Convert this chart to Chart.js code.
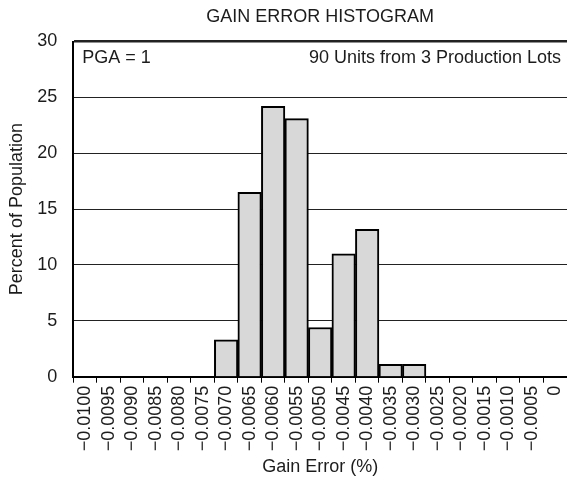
<!DOCTYPE html>
<html lang="en">
<head>
  <meta charset="UTF-8">
  <title>Gain Error Histogram</title>
  <script src="https://cdn.jsdelivr.net/npm/chart.js"></script>
  <style>
    body { margin: 0; background: #fff; }
    #wrap { width: 567px; height: 482px; position: relative; }
  </style>
</head>
<body>
  <div id="wrap"><canvas id="histChart"></canvas></div>

  <script>
    // bins of gain error (%), one bar per bin
    const binLabels = ['\u22120.0100', '\u22120.0095', '\u22120.0090', '\u22120.0085', '\u22120.0080',
      '\u22120.0075', '\u22120.0070', '\u22120.0065', '\u22120.0060', '\u22120.0055', '\u22120.0050',
      '\u22120.0045', '\u22120.0040', '\u22120.0035', '\u22120.0030', '\u22120.0025', '\u22120.0020',
      '\u22120.0015', '\u22120.0010', '\u22120.0005', '0'];
    const percentValues = [0, 0, 0, 0, 0, 0, 3.3, 16.5, 24.2, 23.1, 4.4, 11.0, 13.2, 1.1, 1.1, 0, 0, 0, 0, 0, 0];
    const yTicks = [0, 5, 10, 15, 20, 25, 30];

    const FONT = 'Liberation Sans, Arial, sans-serif';
    const INK = '#1c1c1c';

    // title and the two notes inside the plot
    const textPlugin = {
      id: 'notes',
      afterDraw(chart) {
        const { ctx, chartArea } = chart;
        ctx.save();
        ctx.fillStyle = INK;
        ctx.font = '18px ' + FONT;
        ctx.textBaseline = 'middle';
        ctx.textAlign = 'center';
        ctx.fillText('GAIN ERROR HISTOGRAM', (chartArea.left + chartArea.right) / 2, 17);
        ctx.textAlign = 'left';
        ctx.fillText('PGA = 1', chartArea.left + 9, chartArea.top + 17);
        ctx.textAlign = 'right';
        ctx.fillText('90 Units from 3 Production Lots', chartArea.right - 6, chartArea.top + 17);
        ctx.restore();
      }
    };

    const ctx = document.getElementById('histChart').getContext('2d');
    new Chart(ctx, {
      type: 'bar',
      data: {
        labels: binLabels,
        datasets: [{
          data: percentValues,
          backgroundColor: '#d8d8d8',
          borderColor: '#000',
          borderWidth: 2,
          barPercentage: 1,
          categoryPercentage: 1
        }]
      },
      options: {
        responsive: true,
        maintainAspectRatio: false,
        animation: false,
        layout: { padding: { top: 41.5, right: 0, left: 0, bottom: 0 } },
        plugins: {
          legend: { display: false },
          tooltip: { enabled: false }
        },
        scales: {
          x: {
            offset: true,
            grid: {
              offset: true,
              drawOnChartArea: false,
              drawTicks: true,
              tickLength: 6,
              color: '#000',
              lineWidth: 1
            },
            border: { display: true, color: '#000', width: 2 },
            ticks: {
              autoSkip: false,
              maxRotation: 90,
              minRotation: 90,
              padding: 3,
              color: INK,
              font: { family: FONT, size: 18 }
            },
            title: {
              display: true,
              text: 'Gain Error (%)',
              color: INK,
              font: { family: FONT, size: 18 },
              padding: { top: 0, bottom: 4 }
            },
            afterFit(scale) {
              scale.height = 105.3;
              scale.paddingLeft = 0;
              scale.paddingRight = 0;
            }
          },
          y: {
            min: 0,
            max: 30,
            afterBuildTicks(scale) { scale.ticks = yTicks.map(v => ({ value: v })); },
            grid: {
              drawTicks: false,
              color: '#222',
              lineWidth: c => (c.tick && c.tick.value === 30 ? 2.5 : 1)
            },
            border: { display: true, color: '#000', width: 2 },
            ticks: {
              padding: 16,
              color: INK,
              font: { family: FONT, size: 18 }
            },
            title: {
              display: true,
              text: 'Percent of Population',
              color: INK,
              font: { family: FONT, size: 18 },
              padding: { top: 6.5, bottom: 0 }
            },
            afterFit(scale) { scale.width = 73.3; }
          }
        }
      },
      plugins: [textPlugin]
    });
  </script>
</body>
</html>
